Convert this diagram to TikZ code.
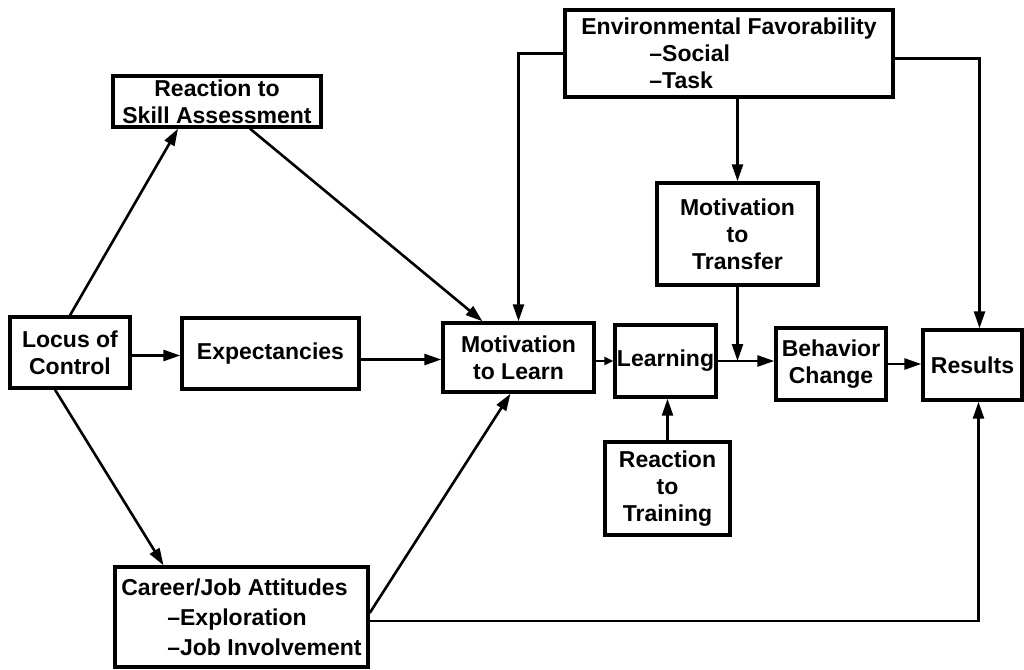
\documentclass[tikz,border=0pt]{standalone}
\usepackage{fontspec}
\setmainfont{Liberation Sans}
\usetikzlibrary{arrows.meta}
\begin{document}
\begin{tikzpicture}[x=1pt,y=-1pt,
  box/.style={draw, line width=3.4pt, inner sep=0pt, align=center,
    font=\bfseries\fontsize{23}{27}\selectfont},
  conn/.style={line width=2.6pt, -{Triangle[length=17pt,width=11pt]}},
  smallconn/.style={line width=2.6pt, -{Triangle[length=9pt,width=8pt]}}]
\useasboundingbox (0,0) rectangle (1024,669);
% boxes
\node[box, minimum width=208pt, minimum height=51pt] (rsa) at (217,101.5) {Reaction to\\Skill Assessment};
\node[box, align=left, minimum width=328pt, minimum height=87pt] (env) at (729,53.5)
  {Environmental Favorability\\\hspace*{68pt}--Social\\\hspace*{68pt}--Task};
\node[box, minimum width=161pt, minimum height=102pt] (mtt) at (737.5,234) {Motivation\\to\\Transfer};
\node[box, minimum width=120pt, minimum height=71pt] (loc) at (70,352.5) {Locus of\\Control};
\node[box, minimum width=177pt, minimum height=71pt] (exp) at (270.5,353.5) {Expectancies};
\node[box, minimum width=151pt, minimum height=69pt] (mtl) at (518.5,357.5) {Motivation\\to Learn};
\node[box, minimum width=101pt, minimum height=72pt] (lrn) at (665.5,361) {Learning};
\node[box, minimum width=110pt, minimum height=72pt] (beh) at (831,364) {Behavior\\Change};
\node[box, minimum width=99pt, minimum height=70pt] (res) at (972.5,365) {Results};
\node[box, minimum width=125pt, minimum height=93pt] (rtt) at (667.5,488.5) {Reaction\\to\\Training};
\node[box, align=left, font=\bfseries\fontsize{23}{30}\selectfont, minimum width=253pt, minimum height=100pt] (car) at (241.5,617)
  {Career/Job Attitudes\\\hspace*{46pt}--Exploration\\\hspace*{46pt}--Job Involvement};
% connectors
\draw[conn] (loc.north) -- ([xshift=-39pt]rsa.south);
\draw[conn] ([xshift=33pt]rsa.south) -- ([xshift=-36pt]mtl.north);
\draw[conn] ([yshift=-3pt]loc.east) -- ([yshift=-3pt]loc.east -| exp.west);
\draw[conn] ([yshift=-6pt]exp.east) -- ([yshift=-6pt]exp.east -| mtl.west);
\draw[conn] ([xshift=-15pt]loc.south) -- ([xshift=-78pt]car.north);
\draw[conn] ([yshift=4pt]car.east) -- ([xshift=-8pt]mtl.south);
\draw[conn] ([yshift=-4pt]car.east) -| ([xshift=6pt]res.south);
\draw[conn] (env.west) -| (mtl.north);
\draw[conn] ([yshift=-5pt]env.east) -| ([xshift=7pt]res.north);
\draw[conn] (mtt.north |- env.south) -- (mtt.north);
\draw[conn] (rtt.north) -- (rtt.north |- lrn.south);
\draw[smallconn] ([yshift=-3.5pt]mtl.east) -- ([yshift=-3.5pt]mtl.east -| lrn.west);
\draw[conn] (lrn.east) -- (lrn.east -| beh.west);
\coordinate (j) at (mtt.south |- lrn.east);
\draw[conn] (mtt.south) -- (j);
\draw[conn] (beh.east) -- (beh.east -| res.west);
\end{tikzpicture}
\end{document}
